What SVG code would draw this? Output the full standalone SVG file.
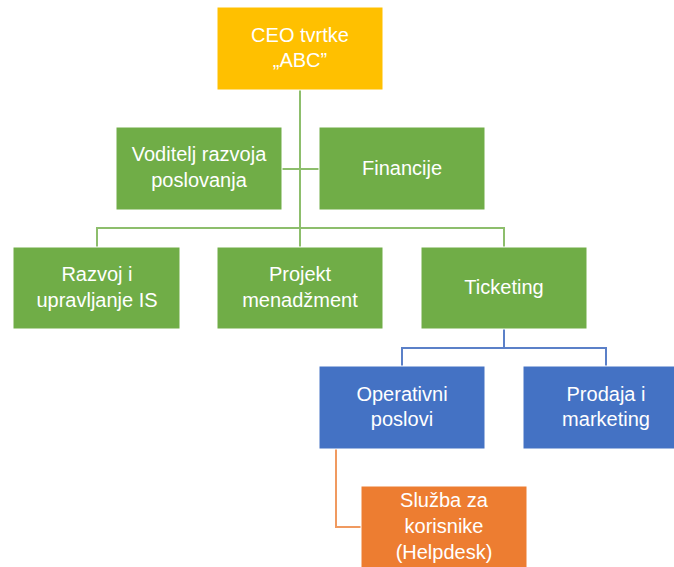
<svg xmlns="http://www.w3.org/2000/svg" width="674" height="567" viewBox="0 0 674 567">
<style>
text{font-family:"Liberation Sans","Open Sans",sans-serif;font-size:20px;fill:#fff;text-anchor:middle}
.y{fill:#FFC000;stroke:#fff;stroke-width:1}
.g{fill:#70AD47;stroke:#fff;stroke-width:1}
.b{fill:#4472C4;stroke:#fff;stroke-width:1}
.o{fill:#ED7D31;stroke:#fff;stroke-width:1}
.cg{stroke:#8DBE6C;stroke-width:2;fill:none}
.cb{stroke:#5B80C8;stroke-width:2;fill:none}
.co{stroke:#F09A60;stroke-width:2;fill:none}
</style>
<rect width="674" height="567" fill="#fff"/>
<g id="connectors">
<path class="cg" d="M300,90 V228 M97,247 V228 H504 V247 M300,228 V247 M282,169 H319"/>
<path class="cb" d="M504,329 V348 M402,366 V348 H606 V366"/>
<path class="co" d="M336,449 V527 H361"/>
</g>
<g id="ceo"><rect class="y" x="217" y="7" width="166" height="83"/><text x="300" y="42">CEO tvrtke</text><text x="300" y="67">„ABC”</text></g>
<g id="voditelj"><rect class="g" x="116" y="127" width="166" height="83"/><text x="199" y="161">Voditelj razvoja</text><text x="199" y="187">poslovanja</text></g>
<g id="financije"><rect class="g" x="319" y="127" width="166" height="83"/><text x="402" y="175">Financije</text></g>
<g id="razvoj"><rect class="g" x="13" y="247" width="167" height="82"/><text x="97" y="281">Razvoj i</text><text x="97" y="307">upravljanje IS</text></g>
<g id="projekt"><rect class="g" x="217" y="247" width="166" height="82"/><text x="300" y="281">Projekt</text><text x="300" y="307">menadžment</text></g>
<g id="ticketing"><rect class="g" x="421" y="247" width="166" height="82"/><text x="504" y="294">Ticketing</text></g>
<g id="operativni"><rect class="b" x="319" y="366" width="166" height="83"/><text x="402" y="401">Operativni</text><text x="402" y="426">poslovi</text></g>
<g id="prodaja"><rect class="b" x="523" y="366" width="166" height="83"/><text x="606" y="401">Prodaja i</text><text x="606" y="426">marketing</text></g>
<g id="sluzba"><rect class="o" x="361" y="486" width="166" height="83"/><text x="444" y="507">Služba za</text><text x="444" y="533">korisnike</text><text x="444" y="559">(Helpdesk)</text></g>
</svg>
